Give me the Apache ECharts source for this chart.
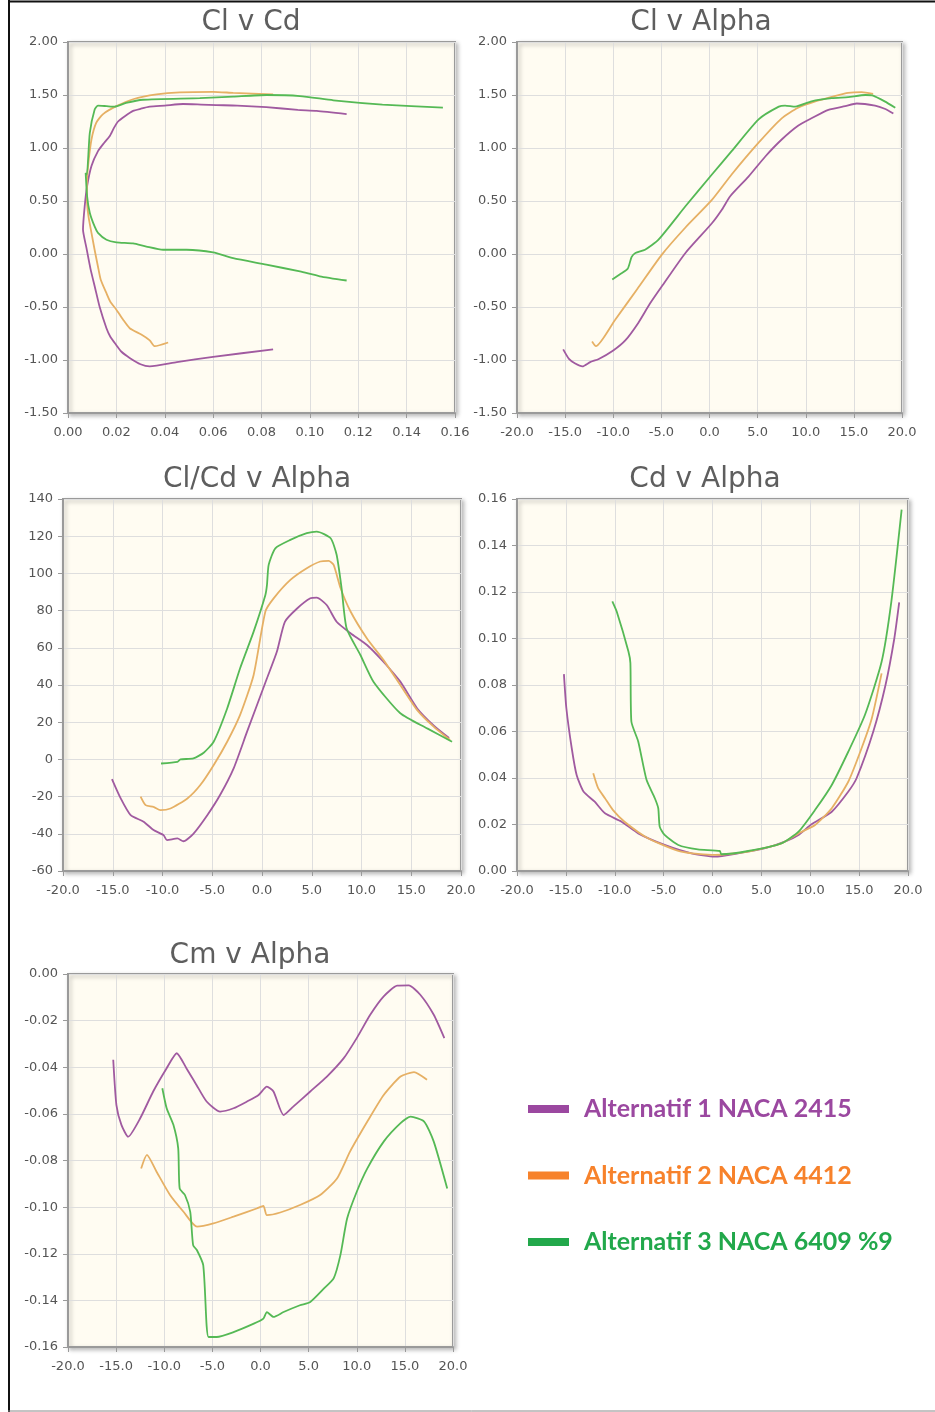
<!DOCTYPE html>
<html>
<head>
<meta charset="utf-8">
<script src="https://cdn.jsdelivr.net/npm/echarts@6/dist/echarts.min.js"></script>
<style>
  html, body { margin: 0; padding: 0; background: #fff; }
  #chart { width: 935px; height: 1412px; }
</style>
</head>
<body>
<div id="chart"></div>
<script>
// series names
const names = ['Alternatif 1 NACA 2415', 'Alternatif 2 NACA 4412', 'Alternatif 3 NACA 6409 %9']

// Cl v Cd  ([Cd, Cl])
const clCd1 = [[0.0848,-0.90],[0.060,-0.97],[0.045,-1.02],[0.0338,-1.06],[0.030,-1.04],[0.0255,-0.98],[0.022,-0.92],[0.020,-0.86],[0.0175,-0.78],[0.0159,-0.70],[0.0131,-0.50],[0.0112,-0.32],[0.0093,-0.14],[0.0076,0.06],[0.0062,0.23],[0.0069,0.45],[0.0079,0.64],[0.0097,0.83],[0.0124,0.97],[0.015,1.05],[0.0172,1.11],[0.019,1.19],[0.0207,1.25],[0.0235,1.30],[0.0269,1.35],[0.030,1.37],[0.0338,1.39],[0.040,1.40],[0.0476,1.415],[0.055,1.41],[0.0614,1.405],[0.070,1.40],[0.082,1.385],[0.095,1.36],[0.1028,1.35],[0.1152,1.32]]
const clCd2 = [[0.0414,-0.835],[0.0359,-0.87],[0.0338,-0.815],[0.0303,-0.76],[0.0255,-0.70],[0.0228,-0.62],[0.020,-0.525],[0.0175,-0.45],[0.0159,-0.37],[0.0135,-0.24],[0.0124,-0.12],[0.011,0.04],[0.0097,0.20],[0.0085,0.35],[0.0079,0.48],[0.0078,0.65],[0.0083,0.83],[0.0097,1.08],[0.0117,1.24],[0.0145,1.32],[0.020,1.395],[0.0269,1.46],[0.0366,1.505],[0.0462,1.525],[0.060,1.53],[0.0683,1.52],[0.0848,1.505]]
const clCd3 = [[0.1152,-0.25],[0.1041,-0.21],[0.0959,-0.165],[0.082,-0.10],[0.0683,-0.04],[0.060,0.015],[0.049,0.04],[0.0393,0.04],[0.0324,0.07],[0.0269,0.10],[0.020,0.11],[0.0159,0.135],[0.0124,0.20],[0.011,0.26],[0.009,0.39],[0.0079,0.545],[0.0073,0.765],[0.0078,0.75],[0.009,1.14],[0.011,1.36],[0.0124,1.40],[0.0159,1.395],[0.0193,1.39],[0.024,1.425],[0.031,1.455],[0.0545,1.47],[0.0683,1.485],[0.082,1.50],[0.0959,1.49],[0.1097,1.45],[0.130,1.41],[0.155,1.38]]

// Cl v Alpha
const clA1 = [[-15.2,-0.90],[-14.6,-0.99],[-14.0,-1.03],[-13.2,-1.06],[-12.4,-1.02],[-11.5,-0.99],[-10.0,-0.91],[-8.75,-0.815],[-7.4,-0.65],[-6.2,-0.47],[-4.95,-0.305],[-2.5,0.01],[0.25,0.29],[1.3,0.42],[2.15,0.545],[4.05,0.73],[5.8,0.92],[7.5,1.08],[9.2,1.21],[10.6,1.28],[12.35,1.36],[14.1,1.395],[15.3,1.42],[17.2,1.40],[18.2,1.37],[19.1,1.325]]
const clA2 = [[-12.2,-0.825],[-11.8,-0.87],[-9.8,-0.62],[-7.5,-0.33],[-4.95,-0.006],[-2.5,0.25],[0.25,0.51],[2.3,0.75],[5.1,1.05],[7.5,1.28],[9.2,1.38],[11.0,1.44],[13.0,1.49],[14.4,1.52],[15.8,1.527],[17.0,1.51]]
const clA3 = [[-10.1,-0.24],[-9.3,-0.19],[-8.5,-0.14],[-8.1,-0.03],[-7.7,0.01],[-6.7,0.04],[-5.3,0.135],[-2.5,0.45],[0.25,0.75],[2.3,0.97],[5.1,1.27],[7.2,1.39],[7.85,1.40],[8.9,1.39],[10.6,1.44],[12.7,1.47],[14.4,1.48],[16.2,1.50],[17.0,1.495],[18.2,1.44],[19.3,1.38]]

// Cl/Cd v Alpha
const ldA1 = [[-15.08,-10.6],[-14.2,-21],[-13.2,-30],[-11.9,-33.5],[-10.9,-38],[-9.9,-40.7],[-9.55,-43.4],[-8.5,-42.5],[-7.9,-44],[-6.9,-40],[-5.5,-30],[-4.2,-19],[-2.85,-4.8],[-1.5,14.9],[0.5,43.6],[1.5,58],[2.3,74],[3.5,81],[4.86,86.6],[5.5,87],[6.5,83],[7.5,74],[8.9,67.8],[10.55,61.5],[12.2,52.5],[13.9,41.8],[15.6,27.4],[17.3,18],[18.8,11.5]]
const ldA2 = [[-12.2,-20],[-11.7,-24.6],[-10.9,-25.5],[-10.2,-27.3],[-9.2,-26.4],[-7.5,-21],[-6.2,-13.8],[-4.85,-3],[-3.5,9.5],[-2.2,23.9],[-0.84,45.4],[0.34,79.5],[1.17,86.6],[2.85,96.5],[4.5,102.8],[5.86,106.4],[6.7,106.7],[7.2,104.6],[7.9,92],[8.9,79.5],[10.55,65],[12.2,53.5],[13.9,40],[15.6,26.5],[17.25,17.6],[18.9,10.4]]
const ldA3 = [[-10.15,-2.2],[-8.5,-1.3],[-8.2,0],[-6.9,0.5],[-5.86,3.6],[-4.86,9.5],[-3.5,27.4],[-2.2,49],[-0.84,68.7],[0.34,88.4],[0.5,93.8],[0.67,104.6],[1.34,113.5],[2.85,118],[4.5,121.6],[5.5,122.5],[6.9,118.9],[7.5,110],[8.0,92],[8.5,70.5],[9.9,56],[11.2,41.8],[13.9,24.8],[16.6,16.7],[19.1,9.5]]

// Cd v Alpha
const cdA1 = [[-15.2,0.0847],[-14.95,0.070],[-14.4,0.0528],[-13.9,0.0413],[-13.2,0.0342],[-12.05,0.0298],[-11.0,0.0248],[-9.3,0.0212],[-7.6,0.0162],[-4.9,0.0112],[-2.15,0.0076],[0.24,0.0062],[2.6,0.0076],[5.4,0.0098],[7.4,0.0126],[8.8,0.0155],[10.1,0.020],[12.2,0.0255],[13.9,0.0342],[14.75,0.040],[16.45,0.060],[17.7,0.080],[18.6,0.100],[19.1,0.1155]]
const cdA2 = [[-12.2,0.042],[-11.7,0.0356],[-11.0,0.0313],[-10.2,0.0263],[-9.0,0.0212],[-6.6,0.0141],[-3.2,0.0083],[0.24,0.0069],[3.65,0.0083],[7.05,0.0119],[8.8,0.0162],[10.5,0.0198],[12.2,0.027],[13.9,0.0385],[15.25,0.0528],[16.3,0.0657],[17.3,0.085]]
const cdA3 = [[-10.25,0.116],[-9.8,0.1116],[-8.6,0.0944],[-8.4,0.0894],[-8.3,0.0643],[-7.6,0.0557],[-6.75,0.0392],[-5.9,0.0313],[-5.55,0.027],[-5.4,0.0191],[-4.9,0.0155],[-3.5,0.0112],[-1.5,0.0093],[0.75,0.0086],[0.9,0.0072],[3.65,0.0086],[7.05,0.0119],[8.8,0.0169],[10.5,0.0263],[12.2,0.037],[13.9,0.0514],[15.6,0.0672],[17.3,0.090],[18.3,0.116],[19.35,0.1554]]

// Cm v Alpha
const cmA1 = [[-15.3,-0.0368],[-14.97,-0.0562],[-14.45,-0.0647],[-13.75,-0.0698],[-12.5,-0.0619],[-11.15,-0.0504],[-9.75,-0.0404],[-8.7,-0.034],[-7.7,-0.0404],[-6.65,-0.0476],[-5.6,-0.0547],[-4.2,-0.059],[-2.8,-0.0576],[-1.4,-0.0547],[-0.2,-0.0519],[0.66,-0.0483],[1.35,-0.0504],[2.4,-0.0605],[3.4,-0.0569],[5.17,-0.0504],[6.9,-0.044],[8.65,-0.0361],[10.0,-0.0275],[11.4,-0.0175],[12.8,-0.0096],[14.2,-0.005],[15.4,-0.0049],[16.6,-0.0089],[18.0,-0.0175],[19.1,-0.0275]]
const cmA2 = [[-12.4,-0.0834],[-11.8,-0.0776],[-10.8,-0.0848],[-9.4,-0.0948],[-8.0,-0.102],[-6.6,-0.1084],[-4.9,-0.107],[-2.8,-0.1041],[-0.4,-0.1006],[0.3,-0.0995],[0.66,-0.1034],[2.05,-0.1023],[4.1,-0.0991],[6.2,-0.0948],[7.95,-0.0877],[9.3,-0.0762],[11.1,-0.0633],[12.8,-0.0519],[14.55,-0.044],[15.95,-0.0421],[17.3,-0.0454]]
const cmA3 = [[-10.2,-0.049],[-9.75,-0.0576],[-9.05,-0.0647],[-8.55,-0.0748],[-8.4,-0.092],[-7.85,-0.0948],[-7.3,-0.102],[-7.0,-0.1163],[-6.6,-0.1185],[-5.95,-0.1249],[-5.6,-0.1507],[-5.4,-0.1557],[-4.55,-0.1557],[-2.8,-0.1536],[-0.7,-0.15],[0.3,-0.1478],[0.66,-0.145],[1.35,-0.1471],[2.4,-0.145],[4.1,-0.1421],[5.17,-0.1407],[6.6,-0.1349],[7.6,-0.1306],[8.3,-0.1206],[9.0,-0.1049],[10.0,-0.0934],[11.1,-0.0834],[12.8,-0.0719],[14.55,-0.064],[15.6,-0.0612],[17.0,-0.0633],[18.0,-0.0719],[19.4,-0.092]]

const titles = ['Cl v Cd', 'Cl v Alpha', 'Cl/Cd v Alpha', 'Cd v Alpha', 'Cm v Alpha']
const lineColors = ['#a05aa0', '#e6b064', '#55b955']
const legendColors = ['#9b48a0', '#f7822b', '#22a84b']

const grids = [
  { left: 68, top: 42, width: 387, height: 371 },
  { left: 517, top: 42, width: 385, height: 371 },
  { left: 63, top: 499, width: 398, height: 372 },
  { left: 517, top: 499, width: 391, height: 372 },
  { left: 68, top: 974, width: 385, height: 373 }
]
const titlePos = [[246, 4], [696, 4], [252, 461], [700, 461], [245, 937]]

const axisBase = (gridIndex, min, max, interval, digits, margin) => ({
  type: 'value',
  gridIndex,
  min, max, interval,
  axisLine: { show: true, onZero: false, lineStyle: { color: '#9a9a9a', width: 2 } },
  axisTick: { show: true, length: 5, lineStyle: { color: '#9a9a9a' } },
  axisLabel: {
    color: '#555', fontSize: 13, fontFamily: 'DejaVu Sans', margin,
    showMinLabel: true, showMaxLabel: true,
    formatter: v => v.toFixed(digits)
  },
  splitLine: { show: true, lineStyle: { color: '#dedede', width: 1 } }
})

const xAxes = [
  axisBase(0, 0, 0.16, 0.02, 2, 13),
  axisBase(1, -20, 20, 5, 1, 13),
  axisBase(2, -20, 20, 5, 1, 13),
  axisBase(3, -20, 20, 5, 1, 13),
  axisBase(4, -20, 20, 5, 1, 13)
]
const yAxes = [
  axisBase(0, -1.5, 2, 0.5, 2, 10),
  axisBase(1, -1.5, 2, 0.5, 2, 10),
  axisBase(2, -60, 140, 20, 0, 10),
  axisBase(3, 0, 0.16, 0.02, 2, 10),
  axisBase(4, -0.16, 0, 0.02, 2, 10)
]

const chartData = [
  [clCd1, clCd2, clCd3],
  [clA1, clA2, clA3],
  [ldA1, ldA2, ldA3],
  [cdA1, cdA2, cdA3],
  [cmA1, cmA2, cmA3]
]

const series = []
chartData.forEach((group, gi) => {
  group.forEach((data, si) => {
    series.push({
      name: names[si],
      type: 'line',
      xAxisIndex: gi,
      yAxisIndex: gi,
      data,
      showSymbol: false,
      smooth: 0.2,
      color: lineColors[si],
      lineStyle: { width: 1.8, color: lineColors[si] }
    })
  })
})

const chart = echarts.init(document.getElementById('chart'))
chart.setOption({
  animation: false,
  backgroundColor: '#fff',
  title: titles.map((t, i) => ({
    text: t,
    left: titlePos[i][0],
    top: titlePos[i][1],
    textAlign: 'center',
    textStyle: { fontFamily: 'DejaVu Sans', fontSize: 28, fontWeight: 'normal', color: '#5e5e5e' }
  })),
  grid: grids.map(g => Object.assign({
    show: true,
    backgroundColor: '#fffcf2',
    borderColor: '#9a9a9a',
    borderWidth: 2,
    shadowColor: 'rgba(0,0,0,0.25)',
    shadowBlur: 4,
    shadowOffsetX: 2,
    shadowOffsetY: 2,
    containLabel: false
  }, g)),
  xAxis: xAxes,
  yAxis: yAxes,
  legend: {
    orient: 'vertical',
    left: 523,
    top: 1090,
    itemWidth: 41,
    itemHeight: 8,
    itemGap: 38.5,
    icon: 'rect',
    selectedMode: false,
    data: names.map((n, i) => ({
      name: n,
      itemStyle: { color: legendColors[i] },
      textStyle: { color: legendColors[i] }
    })),
    textStyle: { fontFamily: 'Lato', fontWeight: 'bold', fontSize: 25, lineHeight: 28, padding: [0, 0, 0, 10] }
  },
  graphic: [
    { type: 'line', shape: { x1: 9, y1: 0, x2: 9, y2: 1412 }, style: { stroke: '#111', lineWidth: 2 }, silent: true },
    { type: 'line', shape: { x1: 8, y1: 1.5, x2: 935, y2: 1.5 }, style: { stroke: '#111', lineWidth: 2 }, silent: true },
    { type: 'line', shape: { x1: 8, y1: 1411, x2: 935, y2: 1411 }, style: { stroke: '#888', lineWidth: 1 }, silent: true }
  ],
  series
})
</script>
</body>
</html>
